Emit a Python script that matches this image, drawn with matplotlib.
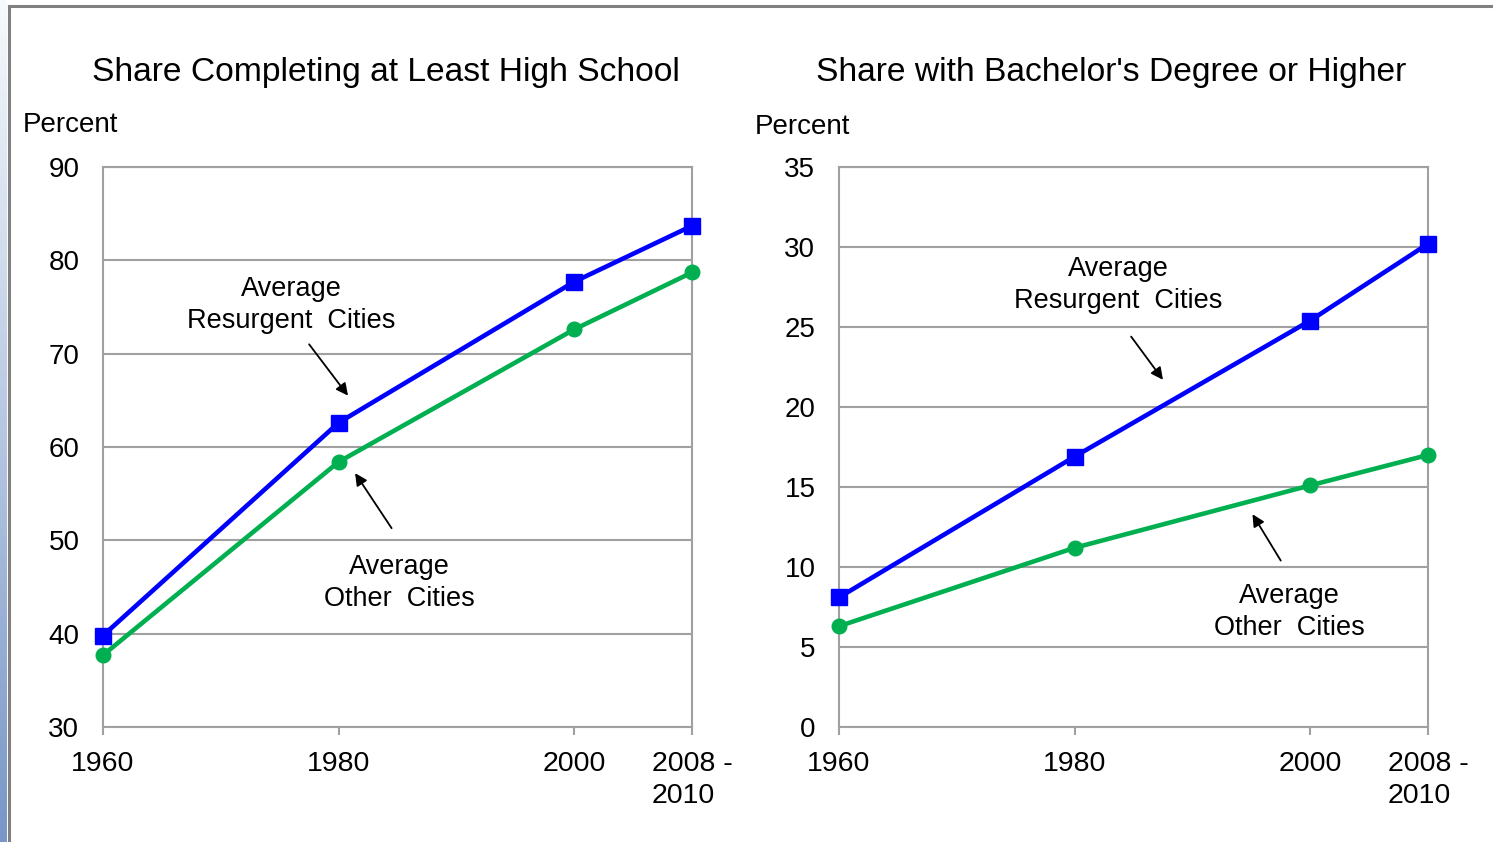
import numpy as np
import matplotlib.pyplot as plt
from matplotlib.lines import Line2D

plt.rcParams['font.family'] = ['Liberation Sans', 'DejaVu Sans']

years = [1960, 1980, 2000, 2010]
year_labels = ['1960', '1980', '2000', '2008 -\n2010']

# share completing at least high school (percent)
hs_resurgent = [39.8, 62.6, 77.7, 83.7]
hs_other = [37.7, 58.4, 72.6, 78.7]

# share with bachelor's degree or higher (percent)
ba_resurgent = [8.1, 16.9, 25.4, 30.2]
ba_other = [6.3, 11.2, 15.1, 17.0]

blue = '#0000FF'
green = '#00B050'
grey = '#A0A0A0'

fig = plt.figure(figsize=(14.93, 8.42), dpi=100)

# left gradient strip and frame border
strip = fig.add_axes([0, 0, 7 / 1493, 1])
grad = np.linspace(0, 1, 256).reshape(-1, 1)
c_top = np.array([0.97, 0.98, 0.99])
c_bot = np.array([0.47, 0.59, 0.78])
img = c_top + (c_bot - c_top) * grad[:, :, None]
strip.imshow(img, aspect='auto', extent=[0, 1, 0, 1], origin='upper')
strip.axis('off')
fig.add_artist(Line2D([8.5 / 1493, 8.5 / 1493], [0, 1 - 5.5 / 842],
                      color='#808080', lw=2.2))
fig.add_artist(Line2D([8.5 / 1493, 1], [1 - 5.5 / 842, 1 - 5.5 / 842],
                      color='#808080', lw=2.2))

ax1 = fig.add_axes([103 / 1493, 1 - 727 / 842, 589 / 1493, 560 / 842])
ax2 = fig.add_axes([839 / 1493, 1 - 727 / 842, 589 / 1493, 560 / 842])


def style(ax, ylim, step):
    ax.set_xlim(1960, 2010)
    ax.set_ylim(*ylim)
    ax.set_yticks(np.arange(ylim[0], ylim[1] + 0.1, step))
    ax.set_xticks(years)
    ax.set_xticklabels(year_labels)
    last = ax.get_xticklabels()[-1]
    last.set_multialignment('left')
    last.set_linespacing(1.3)
    ax.grid(axis='y', color=grey, lw=1.5)
    ax.set_axisbelow(True)
    for s in ax.spines.values():
        s.set_color(grey)
        s.set_linewidth(1.5)
    ax.tick_params(axis='y', length=0, pad=17, labelsize=20)
    ax.tick_params(axis='x', length=6, width=1.5, color=grey, pad=11,
                   labelsize=20.5)
    for lab in ax.get_yticklabels() + ax.get_xticklabels():
        lab.set_clip_on(False)


def plot_pair(ax, res, oth):
    ax.plot(years, res, color=blue, lw=3.3, marker='s', markersize=11.5,
            clip_on=False, zorder=4)
    ax.plot(years, oth, color=green, lw=3.3, marker='o', markersize=10.5,
            clip_on=False, zorder=3)


style(ax1, (30, 90), 10)
style(ax2, (0, 35), 5)
plot_pair(ax1, hs_resurgent, hs_other)
plot_pair(ax2, ba_resurgent, ba_other)

arrow = dict(arrowstyle='-|>', color='black', lw=1.3, mutation_scale=18,
             shrinkA=0, shrinkB=0)
tkw = dict(fontsize=19.5, ha='center', va='center', linespacing=1.3)

ax1.text(1976.0, 75.2, 'Average\nResurgent  Cities', **tkw)
ax1.annotate('', xy=(1980.8, 65.5), xytext=(1977.5, 71.0), arrowprops=arrow)
ax1.text(1985.2, 45.4, 'Average\nOther  Cities', **tkw)
ax1.annotate('', xy=(1981.4, 57.2), xytext=(1984.5, 51.3), arrowprops=arrow)

ax2.text(1983.7, 27.6, 'Average\nResurgent  Cities', **tkw)
ax2.annotate('', xy=(1987.5, 21.7), xytext=(1984.8, 24.4), arrowprops=arrow)
ax2.text(1998.2, 7.2, 'Average\nOther  Cities', **tkw)
ax2.annotate('', xy=(1995.1, 13.3), xytext=(1997.5, 10.4), arrowprops=arrow)

fig.text(386 / 1493, 1 - 73 / 842, 'Share Completing at Least High School',
         fontsize=24.2, ha='center', va='center')
fig.text(1111 / 1493, 1 - 73 / 842, "Share with Bachelor's Degree or Higher",
         fontsize=24.2, ha='center', va='center')
fig.text(23 / 1493, 1 - 125 / 842, 'Percent', fontsize=20, ha='left',
         va='center')
fig.text(755 / 1493, 1 - 127 / 842, 'Percent', fontsize=20, ha='left',
         va='center')

fig.savefig('out.png', dpi=100)
